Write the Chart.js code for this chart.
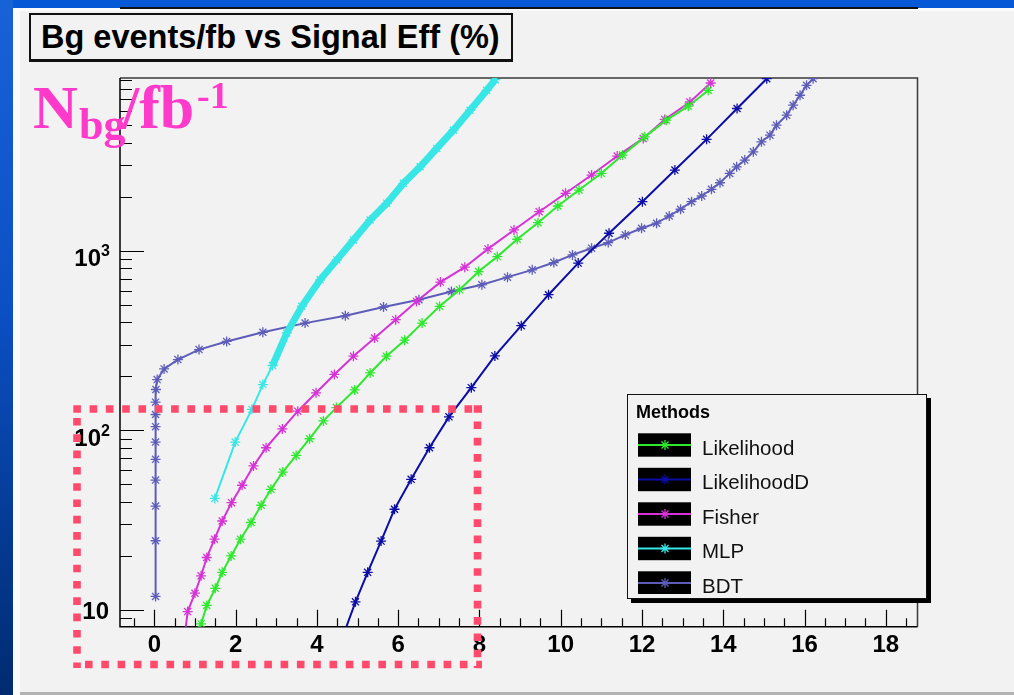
<!DOCTYPE html>
<html>
<head>
<meta charset="utf-8">
<script src="https://cdn.jsdelivr.net/npm/chart.js@4.4.1/dist/chart.umd.min.js"></script>
<style>
  html, body { margin: 0; padding: 0; }
  body { width: 1014px; height: 695px; position: relative; overflow: hidden; background: #f2f2f2; }
  .band-top { position: absolute; left: 0; top: 0; width: 1014px; height: 8px; background: #0758d6; }
  .band-left { position: absolute; left: 0; top: 0; width: 13px; height: 695px; background: linear-gradient(#1862d8, #0b4fc4 45%, #002b70); }
  .edge-left { position: absolute; left: 13px; top: 8px; width: 7px; height: 687px; background: #fbfbfb; }
  .edge-top { position: absolute; left: 13px; top: 8px; width: 1001px; height: 3px; background: #fbfbfb; }
  .rule-top { position: absolute; left: 120px; top: 7px; width: 798px; height: 2px; background: #111; }
  .edge-bottom { position: absolute; left: 20px; top: 692px; width: 994px; height: 3px; background: #b3b3b3; }
  #wrap { position: absolute; left: 0; top: 0; width: 1014px; height: 695px; }
  .title { position: absolute; left: 29px; top: 13px; width: 470px; height: 44px; border: 2px solid #111; border-bottom-width: 3px;
           background: #f2f2f2; font: bold 32.5px "Liberation Sans", Arial, sans-serif; line-height: 44px; color: #000;
           padding-left: 10px; box-sizing: content-box; white-space: nowrap; z-index: 3; }
  .ylab { position: absolute; color: #ff3acb; font-family: "Liberation Serif", "Times New Roman", serif; font-weight: bold;
          line-height: 1; white-space: nowrap; z-index: 3; }
</style>
</head>
<body>
<div class="band-top"></div>
<div class="band-left"></div>
<div class="edge-left"></div>
<div class="edge-top"></div>
<div class="rule-top"></div>
<div class="edge-bottom"></div>
<div id="wrap"><canvas id="c"></canvas></div>
<div class="title">Bg events/fb vs Signal Eff (%)</div>
<span class="ylab" style="left:33px;top:76px;font-size:62px;">N</span>
<span class="ylab" style="left:79px;top:103px;font-size:44px;">bg</span>
<span class="ylab" style="left:122px;top:76px;font-size:62px;">/fb</span>
<span class="ylab" style="left:197px;top:76px;font-size:38px;">-1</span>
<script>
// Signal efficiency (%) and background events per fb^-1 for each method
const methods = ['Likelihood', 'LikelihoodD', 'Fisher', 'MLP', 'BDT'];

const likelihoodEff = [1.10, 1.15, 1.29, 1.50, 1.67, 1.89, 2.12, 2.38, 2.63, 2.87, 3.16, 3.49, 3.82, 4.16, 4.48, 4.93, 5.31, 5.71, 6.16, 6.59, 7.02, 7.51, 7.98, 8.44, 8.93, 9.44, 9.93, 10.45, 11.00, 11.52, 12.07, 12.60, 13.14, 13.63];
const likelihoodBg  = [7.9, 8.36, 10.6, 13.2, 16.2, 20.0, 24.8, 30.7, 38.3, 47.0, 58.6, 72.6, 89.9, 113, 134, 168, 209, 259, 318, 396, 491, 607, 767, 929, 1161, 1436, 1778, 2182, 2704, 3415, 4315, 5345, 6394, 7842];

const likelihoodDEff = [4.72, 4.95, 5.25, 5.58, 5.91, 6.32, 6.77, 7.25, 7.80, 8.38, 9.03, 9.70, 10.43, 11.19, 12.01, 12.81, 13.59, 14.34, 15.07];
const likelihoodDBg  = [8.0, 11.1, 16.2, 24.2, 36.4, 53.4, 80.1, 119, 173, 260, 383, 570, 855, 1254, 1880, 2818, 4180, 6210, 9100];

const fisherEff = [0.77, 0.82, 1.00, 1.15, 1.29, 1.48, 1.67, 1.90, 2.16, 2.44, 2.75, 3.15, 3.53, 3.98, 4.43, 4.90, 5.42, 5.94, 6.45, 7.04, 7.64, 8.21, 8.85, 9.47, 10.12, 10.76, 11.39, 12.03, 12.56, 13.18, 13.69];
const fisherBg  = [7.9, 9.8, 12.4, 15.5, 19.6, 24.8, 31.3, 39.6, 49.5, 63.4, 80.1, 102, 128, 162, 205, 259, 327, 414, 523, 670, 811, 1026, 1308, 1653, 2093, 2644, 3374, 4230, 5395, 6750, 8610];

const mlpEff = [1.49, 1.99, 2.40, 2.67, 2.91, 3.26, 3.63, 4.08, 4.49, 4.90, 5.31, 5.72, 6.13, 6.54, 6.95, 7.36, 7.77, 8.18, 8.39];
const mlpBg  = [41.8, 86.1, 131, 180, 230, 349, 491, 690, 891, 1151, 1486, 1840, 2377, 2940, 3720, 4700, 6070, 7840, 8990];

const bdtEff = [0.03, 0.03, 0.03, 0.03, 0.03, 0.03, 0.03, 0.03, 0.03, 0.04, 0.07, 0.24, 0.58, 1.10, 1.78, 2.67, 3.71, 4.70, 5.64, 6.51, 7.31, 8.06, 8.69, 9.30, 9.83, 10.29, 10.76, 11.17, 11.59, 11.99, 12.36, 12.67, 12.95, 13.22, 13.47, 13.71, 13.92, 14.16, 14.33, 14.53, 14.74, 14.94, 15.15, 15.31, 15.56, 15.72, 15.89, 16.05, 16.21];
const bdtBg  = [11.9, 24.3, 37.9, 52.9, 69, 86.1, 104.9, 122.7, 143.7, 169, 192, 220, 248, 282, 313, 352, 396, 435, 487, 534, 594, 647, 714, 784, 861, 950, 1035, 1112, 1227, 1337, 1426, 1564, 1706, 1880, 2022, 2203, 2395, 2701, 2940, 3204, 3563, 4050, 4410, 5012, 5700, 6475, 7360, 8360, 9100];

// Axis labels
const xTickLabels = [0, 2, 4, 6, 8, 10, 12, 14, 16, 18];
const yDecadeLabels = [10, 100, 1000];

const colors = ['#2ee82e', '#0c0ca6', '#d633d6', '#38e6e6', '#5d5db9'];

const X_MIN = -0.845, X_MAX = 18.78, Y_MIN = 8.07, Y_MAX = 9180;

const pts = (xs, ys) => xs.map((v, i) => ({ x: v, y: ys[i] }));
const series = [
  pts(likelihoodEff, likelihoodBg),
  pts(likelihoodDEff, likelihoodDBg),
  pts(fisherEff, fisherBg),
  pts(mlpEff, mlpBg),
  pts(bdtEff, bdtBg)
];

const datasets = methods.map((name, i) => ({
  label: name,
  data: series[i],
  showLine: true,
  borderColor: colors[i],
  backgroundColor: colors[i],
  borderWidth: 2,
  tension: 0,
  pointStyle: 'star',
  pointRadius: ctx => (ctx.raw && ctx.raw.y < Y_MIN) ? 0 : 5,
  pointBorderWidth: 1.3,
  pointBorderColor: colors[i],
  clip: 0,
  // the MLP curve is densely sampled above ~200 events, drawn as a wide band
  segment: name === 'MLP' ? { borderWidth: ctx => ctx.p0.parsed.y > 200 ? 7 : 2 } : undefined
}));

function star(ctx, cx, cy, r) {
  const d = r * Math.SQRT1_2;
  ctx.beginPath();
  ctx.moveTo(cx - r, cy); ctx.lineTo(cx + r, cy);
  ctx.moveTo(cx, cy - r); ctx.lineTo(cx, cy + r);
  ctx.moveTo(cx - d, cy - d); ctx.lineTo(cx + d, cy + d);
  ctx.moveTo(cx - d, cy + d); ctx.lineTo(cx + d, cy - d);
  ctx.stroke();
}

// Frame, inward tick marks and tick labels
const frameAxes = {
  id: 'frameAxes',
  beforeDatasetsDraw(chart) {
    const { ctx, chartArea: a, scales: { x, y } } = chart;
    ctx.save();
    ctx.lineCap = 'butt';
    ctx.strokeStyle = '#3a3a3a';
    ctx.lineWidth = 1.5;
    ctx.beginPath();
    ctx.moveTo(a.left, a.top); ctx.lineTo(a.right, a.top); ctx.lineTo(a.right, a.bottom);
    ctx.stroke();

    ctx.strokeStyle = '#000';
    ctx.beginPath();
    ctx.moveTo(a.left, a.top); ctx.lineTo(a.left, a.bottom); ctx.lineTo(a.right, a.bottom);
    ctx.stroke();

    // x ticks every 0.5, long ones every 2
    ctx.lineWidth = 1.2;
    ctx.beginPath();
    for (let k = -1; k * 0.5 <= X_MAX; k++) {
      const v = k * 0.5;
      if (v < X_MIN) continue;
      const px = Math.round(x.getPixelForValue(v)) + 0.5;
      const len = (k % 4 === 0) ? 17 : 8.5;
      ctx.moveTo(px, a.bottom); ctx.lineTo(px, a.bottom - len);
    }
    // y ticks at 1..9 x 10^n, long ones at decades
    for (let d = 1; d <= 1000; d *= 10) {
      for (let m = 1; m <= 9; m++) {
        const v = m * d;
        if (v < Y_MIN || v > Y_MAX) continue;
        const py = Math.round(y.getPixelForValue(v)) + 0.5;
        const len = m === 1 ? 24 : 12;
        ctx.moveTo(a.left, py); ctx.lineTo(a.left + len, py);
      }
    }
    ctx.stroke();

    ctx.fillStyle = '#000';
    ctx.font = 'bold 24px "Liberation Sans", Arial, sans-serif';
    ctx.textAlign = 'center';
    ctx.textBaseline = 'alphabetic';
    xTickLabels.forEach(v => ctx.fillText(String(v), x.getPixelForValue(v), a.bottom + 25));

    yDecadeLabels.forEach(v => {
      const py = y.getPixelForValue(v);
      const n = Math.round(Math.log10(v));
      if (n === 1) {
        ctx.font = 'bold 24px "Liberation Sans", Arial, sans-serif';
        ctx.textAlign = 'right';
        ctx.fillText('10', a.left - 11, py + 9);
      } else {
        ctx.font = 'bold 24px "Liberation Sans", Arial, sans-serif';
        ctx.textAlign = 'right';
        ctx.fillText('10', a.left - 19, py + 15.5);
        ctx.font = 'bold 16px "Liberation Sans", Arial, sans-serif';
        ctx.textAlign = 'left';
        ctx.fillText(String(n), a.left - 19, py + 5.5);
      }
    });
    ctx.restore();
  },
  afterDraw(chart) {
    const { ctx } = chart;
    ctx.save();
    // legend box with drop shadow
    const L = 627, T = 394, R = 927, B = 599;
    ctx.fillStyle = '#000';
    ctx.fillRect(L + 4, T + 4, R - L, B - T);
    ctx.fillStyle = '#f2f2f2';
    ctx.fillRect(L, T, R - L, B - T);
    ctx.strokeStyle = '#111';
    ctx.lineWidth = 1;
    ctx.strokeRect(L + 0.5, T + 0.5, R - L - 1, B - T - 1);

    ctx.beginPath();
    ctx.rect(L + 1, T + 1, R - L - 2, 593 - T);
    ctx.clip();

    ctx.fillStyle = '#000';
    ctx.font = 'bold 18px "Liberation Sans", Arial, sans-serif';
    ctx.textAlign = 'left';
    ctx.fillText('Methods', 636, 418);

    chart.data.datasets.forEach((ds, i) => {
      const cy = 445 + i * 34.5;
      ctx.fillStyle = '#000';
      ctx.fillRect(638, cy - 11.7, 53, 23.4);
      ctx.strokeStyle = ds.borderColor;
      ctx.lineWidth = 2;
      ctx.beginPath(); ctx.moveTo(638, cy); ctx.lineTo(691, cy); ctx.stroke();
      ctx.lineWidth = 1.3;
      star(ctx, 665, cy, 5);
      ctx.fillStyle = '#111';
      ctx.font = '20.5px "Liberation Sans", Arial, sans-serif';
      ctx.fillText(ds.label, 702, cy + 9.8);
    });
    ctx.restore();

    // dotted highlight rectangle
    ctx.save();
    ctx.strokeStyle = '#ff4a6c';
    ctx.lineWidth = 7.6;
    ctx.setLineDash([7.6, 8.7]);
    ctx.beginPath(); ctx.moveTo(73.3, 409); ctx.lineTo(482, 409); ctx.stroke();
    ctx.beginPath(); ctx.moveTo(77, 418); ctx.lineTo(77, 668); ctx.stroke();
    ctx.beginPath(); ctx.moveTo(85, 664.5); ctx.lineTo(482, 664.5); ctx.stroke();
    ctx.beginPath(); ctx.moveTo(477.5, 405.2); ctx.lineTo(477.5, 668); ctx.stroke();
    ctx.restore();
  }
};

function draw() {
  new Chart(document.getElementById('c'), {
    type: 'scatter',
    data: { datasets },
    options: {
      responsive: true,
      maintainAspectRatio: false,
      animation: false,
      devicePixelRatio: 1,
      events: [],
      layout: { padding: { left: 120, top: 78, right: 96.5, bottom: 68.3 } },
      plugins: { legend: { display: false }, tooltip: { enabled: false }, title: { display: false } },
      scales: {
        x: { type: 'linear', min: X_MIN, max: X_MAX, display: false },
        y: { type: 'logarithmic', min: Y_MIN, max: Y_MAX, display: false }
      }
    },
    plugins: [frameAxes]
  });
}
if (document.fonts && document.fonts.ready) document.fonts.ready.then(draw); else draw();
</script>
</body>
</html>
